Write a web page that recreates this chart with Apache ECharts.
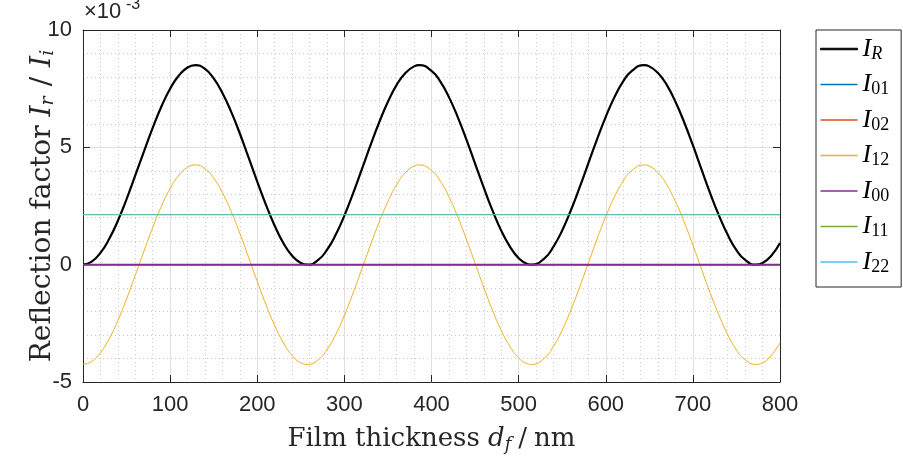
<!DOCTYPE html>
<html>
<head>
<meta charset="utf-8">
<script src="https://cdn.jsdelivr.net/npm/echarts@6/dist/echarts.min.js"></script>
<style>
  html, body { margin: 0; padding: 0; background: #fff; }
  #main { width: 903px; height: 459px; }
</style>
</head>
<body>
<div id="main"></div>
<script>
// 膜厚采样点 (nm)，极值点处单独取点
const thickness = [0, 10, 20, 30, 40, 50, 60, 70, 80, 90, 100, 110, 120, 129, 140, 150, 160, 170, 180, 190,
  200, 210, 220, 230, 240, 250, 258, 270, 280, 290, 300, 310, 320, 330, 340, 350, 360, 370, 380, 386,
  400, 410, 420, 430, 440, 450, 460, 470, 480, 490, 500, 510, 515, 530, 540, 550, 560, 570, 580, 590,
  600, 610, 620, 630, 644, 650, 660, 670, 680, 690, 700, 710, 720, 730, 740, 750, 760, 772, 780, 790, 800]

// 反射系数 (单位 1e-3)
const iR = [0, 0.13, 0.50, 1.09, 1.87, 2.79, 3.80, 4.83, 5.83, 6.74, 7.50, 8.06, 8.40, 8.50, 8.34, 7.94, 7.32, 6.52, 5.59, 4.57,
  3.54, 2.55, 1.66, 0.92, 0.38, 0.07, 0.00, 0.20, 0.63, 1.27, 2.09, 3.04, 4.06, 5.09, 6.07, 6.94, 7.66, 8.17, 8.45, 8.50,
  8.26, 7.81, 7.14, 6.30, 5.34, 4.31, 3.28, 2.31, 1.45, 0.77, 0.28, 0.03, 0.00, 0.28, 0.77, 1.46, 2.32, 3.29, 4.32, 5.34,
  6.30, 7.14, 7.81, 8.26, 8.50, 8.45, 8.17, 7.66, 6.94, 6.07, 5.09, 4.05, 3.03, 2.09, 1.27, 0.62, 0.20, 0.00, 0.07, 0.38, 0.92]
const i12 = [-4.25, -4.12, -3.75, -3.16, -2.38, -1.46, -0.45, 0.58, 1.58, 2.49, 3.25, 3.81, 4.15, 4.25, 4.09, 3.69, 3.07, 2.27, 1.34, 0.32,
  -0.71, -1.70, -2.59, -3.33, -3.87, -4.18, -4.25, -4.05, -3.62, -2.98, -2.16, -1.21, -0.19, 0.84, 1.82, 2.69, 3.41, 3.92, 4.20, 4.25,
  4.01, 3.56, 2.89, 2.05, 1.09, 0.06, -0.97, -1.94, -2.80, -3.48, -3.97, -4.22, -4.25, -3.97, -3.48, -2.79, -1.93, -0.96, 0.07, 1.09,
  2.05, 2.89, 3.56, 4.01, 4.25, 4.20, 3.92, 3.41, 2.69, 1.82, 0.84, -0.20, -1.22, -2.16, -2.98, -3.63, -4.05, -4.25, -4.18, -3.87, -3.33]

// 常数项 (两端点)
const levelX = [0, 800]
const i01 = [0, 0]
const i02 = [0, 0]
const i00 = [0, 0]
const i11 = [2.13, 2.13]
const i22 = [2.13, 2.13]

const names = ['I_R', 'I_01', 'I_02', 'I_12', 'I_00', 'I_11', 'I_22']
const colors = ['#000000', '#0072BD', '#D95319', '#EDB120', '#7E2F8E', '#77AC30', '#4DBEEE']
const widths = [2.2, 1, 1, 1, 2, 1, 1]

function pairs(xs, ys) {
  return xs.map((x, i) => [x, ys[i]])
}

const axisColor = '#262626'
const serif = '"DejaVu Serif", serif'
const legendSerif = '"Liberation Serif", serif'
const sans = '"Liberation Sans", Arial, sans-serif'

const seriesData = [
  pairs(thickness, iR),
  pairs(levelX, i01),
  pairs(levelX, i02),
  pairs(thickness, i12),
  pairs(levelX, i00),
  pairs(levelX, i11),
  pairs(levelX, i22)
]

// 轴标题富文本 (字号不同)
function nameRich(size, gap) {
  return {
    n: { fontFamily: serif, fontSize: size, color: axisColor },
    sl: { fontFamily: serif, fontSize: size, color: axisColor, padding: [0, gap, 0, gap] },
    i: { fontFamily: serif, fontSize: size, fontStyle: 'italic', color: axisColor },
    s: { fontFamily: serif, fontSize: Math.round(size * 0.68), fontStyle: 'italic', color: axisColor, padding: [12, 0, 0, 0] }
  }
}

// 坐标轴公共样式
function boxAxis(extra) {
  return Object.assign({
    type: 'value',
    axisLine: { show: true, onZero: false, lineStyle: { color: axisColor, width: 1 } },
    axisTick: { show: true, inside: true, length: 7, lineStyle: { color: axisColor } },
    axisLabel: { show: false },
    splitLine: { show: false }
  }, extra)
}

let chart = echarts.init(document.getElementById('main'), null, { renderer: 'canvas' })

let option = {
  animation: false,
  backgroundColor: '#fff',
  // 指数标记 ×10^-3
  title: [{
    text: '×10',
    left: 84,
    top: 1,
    padding: 0,
    textStyle: { fontFamily: sans, fontSize: 22, fontWeight: 'normal', color: axisColor }
  }, {
    text: '-3',
    left: 126,
    top: -3,
    padding: 0,
    textStyle: { fontFamily: sans, fontSize: 16, fontWeight: 'normal', color: axisColor }
  }],
  grid: { left: 83, right: 123, top: 30, bottom: 77, containLabel: false },
  legend: {
    orient: 'vertical',
    left: 816,
    top: 30,
    itemWidth: 37,
    itemHeight: 1.5,
    itemGap: 7.5,
    padding: [5, 12, 11, 4],
    borderColor: axisColor,
    borderWidth: 1,
    backgroundColor: '#fff',
    icon: 'rect',
    data: names.map((n, k) => ({
      name: n,
      icon: 'rect',
      itemStyle: k === 0 ? { color: '#000', borderColor: '#000', borderWidth: 1 } : { color: colors[k], borderWidth: 0 }
    })),
    formatter: function (name) {
      const sub = name.split('_')[1]
      return sub === 'R' ? '{i|I}{r|R}' : '{i|I}{s|' + sub + '}'
    },
    textStyle: {
      rich: {
        i: { fontFamily: legendSerif, fontSize: 26, fontStyle: 'italic', color: '#000', lineHeight: 28 },
        r: { fontFamily: legendSerif, fontSize: 18, fontStyle: 'italic', color: '#000', lineHeight: 18, padding: [10, 0, 0, 0] },
        s: { fontFamily: legendSerif, fontSize: 18, color: '#000', lineHeight: 18, padding: [10, 0, 0, 0] }
      }
    }
  },
  xAxis: [boxAxis({
    min: 0,
    max: 800,
    interval: 100,
    position: 'bottom',
    axisLabel: { show: true, fontFamily: sans, fontSize: 22, color: axisColor, margin: 12 },
    splitLine: { show: true, lineStyle: { color: '#dfdfdf', width: 1 } },
    minorTick: { show: false, splitNumber: 5 },
    minorSplitLine: { show: true, lineStyle: { color: '#c8c8c8', width: 1, type: [1, 3] } },
    name: '{n|Film thickness }{i|d}{s|f}{sl|/}{n|nm}',
    nameLocation: 'middle',
    nameGap: 42,
    nameTextStyle: { rich: nameRich(26, 7) }
  }), boxAxis({
    min: 0,
    max: 800,
    interval: 100,
    position: 'top'
  })],
  yAxis: [boxAxis({
    min: -5,
    max: 10,
    interval: 5,
    position: 'left',
    axisLabel: { show: true, fontFamily: sans, fontSize: 22, color: axisColor, margin: 11 },
    splitLine: { show: true, lineStyle: { color: '#dfdfdf', width: 1 } },
    minorTick: { show: false, splitNumber: 5 },
    minorSplitLine: { show: true, lineStyle: { color: '#c8c8c8', width: 1, type: [1, 3] } },
    name: '{n|Reflection factor }{i|I}{s|r}{sl|/}{i|I}{s|i}',
    nameLocation: 'middle',
    nameGap: 25,
    nameMoveOverlap: false,
    nameTextStyle: { rich: nameRich(28, 10) }
  }), boxAxis({
    min: -5,
    max: 10,
    interval: 5,
    position: 'right'
  })],
  series: names.map((name, k) => ({
    name: name,
    type: 'line',
    xAxisIndex: 0,
    yAxisIndex: 0,
    data: seriesData[k],
    symbol: 'none',
    smooth: k === 0 || k === 3,
    silent: true,
    color: colors[k],
    lineStyle: { color: colors[k], width: widths[k], opacity: k === 6 ? 0.75 : 1 }
  }))
}

chart.setOption(option)
</script>
</body>
</html>
